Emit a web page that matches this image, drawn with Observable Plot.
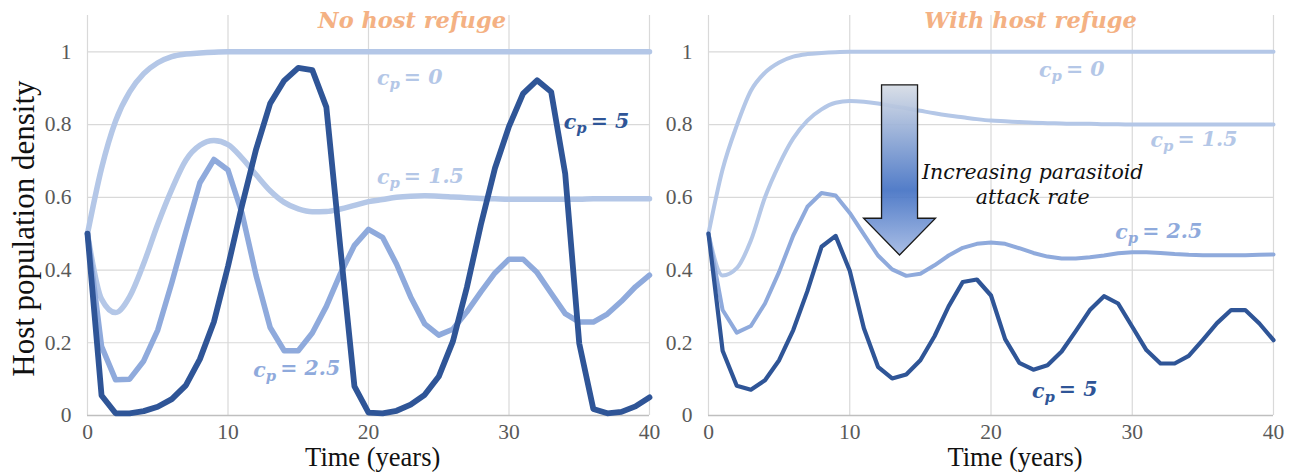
<!DOCTYPE html>
<html>
<head>
<meta charset="utf-8">
<script src="https://cdn.jsdelivr.net/npm/d3@7"></script>
<script src="https://cdn.jsdelivr.net/npm/@observablehq/plot@0.6"></script>
<style>
html, body { margin: 0; padding: 0; background: #fff; }
#wrap { display: flex; width: 1303px; height: 473px; overflow: hidden; }
#wrap svg { background: none !important; overflow: visible; }
</style>
</head>
<body>
<div id="wrap"></div>
<script>
// ---------- data ----------
const years = [0,1,2,3,4,5,6,7,8,9,10,11,12,13,14,15,16,17,18,19,20,21,22,23,24,25,26,27,28,29,30,31,32,33,34,35,36,37,38,39,40];
const cpLevels = ["0", "1.5", "2.5", "5"];

// Panel A: no host refuge
const noRefuge_cp0  = [0.5,0.68,0.81,0.89,0.94,0.97,0.987,0.994,0.997,0.999,1,1,1,1,1,1,1,1,1,1,1,1,1,1,1,1,1,1,1,1,1,1,1,1,1,1,1,1,1,1,1];
const noRefuge_cp15 = [0.5,0.32,0.283,0.327,0.418,0.526,0.622,0.702,0.743,0.756,0.745,0.708,0.662,0.618,0.586,0.568,0.56,0.561,0.568,0.578,0.588,0.594,0.6,0.603,0.604,0.603,0.601,0.599,0.597,0.596,0.595,0.595,0.595,0.595,0.595,0.595,0.596,0.596,0.596,0.596,0.596];
const noRefuge_cp25 = [0.5,0.19,0.098,0.1,0.15,0.235,0.365,0.505,0.64,0.704,0.675,0.556,0.385,0.242,0.178,0.178,0.227,0.3,0.39,0.468,0.512,0.49,0.416,0.326,0.252,0.221,0.237,0.285,0.34,0.392,0.43,0.43,0.393,0.336,0.28,0.257,0.257,0.279,0.314,0.354,0.386];
const noRefuge_cp5  = [0.5,0.055,0.006,0.006,0.012,0.024,0.045,0.083,0.155,0.258,0.41,0.578,0.732,0.858,0.921,0.956,0.95,0.848,0.46,0.08,0.008,0.006,0.013,0.03,0.057,0.107,0.203,0.352,0.525,0.68,0.795,0.885,0.922,0.89,0.665,0.198,0.018,0.006,0.01,0.025,0.05];

// Panel B: with host refuge
const withRefuge_cp0  = [0.5,0.677,0.797,0.893,0.943,0.971,0.987,0.994,0.997,0.999,1,1,1,1,1,1,1,1,1,1,1,1,1,1,1,1,1,1,1,1,1,1,1,1,1,1,1,1,1,1,1];
const withRefuge_cp15 = [0.5,0.385,0.405,0.481,0.6,0.69,0.762,0.811,0.842,0.86,0.865,0.863,0.858,0.851,0.845,0.838,0.831,0.825,0.82,0.815,0.811,0.809,0.807,0.805,0.804,0.803,0.802,0.802,0.801,0.801,0.8,0.8,0.8,0.8,0.8,0.8,0.8,0.8,0.8,0.8,0.8];
const withRefuge_cp25 = [0.5,0.29,0.228,0.246,0.308,0.395,0.495,0.574,0.612,0.605,0.557,0.498,0.44,0.402,0.384,0.39,0.413,0.44,0.461,0.472,0.476,0.472,0.46,0.447,0.437,0.432,0.432,0.435,0.44,0.446,0.449,0.449,0.447,0.444,0.442,0.441,0.441,0.441,0.441,0.442,0.443];
const withRefuge_cp5  = [0.5,0.178,0.082,0.071,0.097,0.152,0.235,0.342,0.464,0.494,0.398,0.24,0.134,0.102,0.113,0.152,0.218,0.3,0.367,0.374,0.33,0.21,0.145,0.126,0.138,0.176,0.232,0.29,0.328,0.308,0.244,0.18,0.143,0.143,0.164,0.208,0.254,0.29,0.29,0.253,0.207];

// tick labels
const xTicks = [0, 10, 20, 30, 40];
const xTickLabels = ["0", "10", "20", "30", "40"];
const yTicks = [0, 0.2, 0.4, 0.6, 0.8, 1];
const yTickLabels = ["0", "0.2", "0.4", "0.6", "0.8", "1"];

// text annotations
const panelTitles = ["No host refuge", "With host refuge"];
const xTitle = "Time (years)";
const yTitle = "Host population density";
const arrowText = "Increasing parasitoid\nattack rate";

// label anchor positions (data units: year, density)
const noRefugeLabelT = [20.6, 20.6, 11.8, 33.9];
const noRefugeLabelV = [0.908, 0.636, 0.107, 0.787];
const withRefugeLabelT = [23.4, 31.3, 28.8, 22.9];
const withRefugeLabelV = [0.93, 0.738, 0.485, 0.048];

// ---------- styling ----------
const lineColors = ["#b4c7e7", "#b4c7e7", "#8faadc", "#2f5597"];
const labelColors = ["#b4c7e7", "#b4c7e7", "#8faadc", "#2f5597"];
const titleColor = "#f4b183";
const gridColor = "#d9d9d9";
const serif = "'Liberation Serif', 'Times New Roman', serif";
const deja = "'DejaVu Serif', serif";

function rows(arr) { return years.map((t, i) => ({t, v: arr[i]})); }

function arrowMark(spec) {
  return function(index, scales) {
    const x = scales.x(spec.t);
    const yTop = scales.y(spec.top), yHead = scales.y(spec.head), yTip = scales.y(spec.tip);
    const sw = 18, hw = 36;
    const g = d3.create("svg:g");
    const grad = g.append("defs").append("linearGradient")
      .attr("id", "arrowGrad").attr("x1", 0).attr("y1", 0).attr("x2", 0).attr("y2", 1);
    grad.append("stop").attr("offset", "0").attr("stop-color", "#d6dce5");
    grad.append("stop").attr("offset", "0.62").attr("stop-color", "#4472c4");
    grad.append("stop").attr("offset", "1").attr("stop-color", "#a3b9e3");
    g.append("path")
      .attr("d", `M${x - sw},${yTop}H${x + sw}V${yHead}H${x + hw}L${x},${yTip}L${x - hw},${yHead}H${x - sw}Z`)
      .attr("fill", "url(#arrowGrad)")
      .attr("fill-opacity", 0.92)
      .attr("stroke", "#1a1a1a")
      .attr("stroke-width", 1.3)
      .attr("stroke-linejoin", "miter");
    return g.node();
  };
}

function makePanel(opts) {
  const {series, labelT, labelV, title, titleT, width, marginLeft, marginRight, lw, showYTitle, arrow, xTitleT} = opts;
  const marks = [];
  marks.push(Plot.ruleX(xTicks, {stroke: gridColor, strokeWidth: 1.2}));
  marks.push(Plot.ruleY(yTicks.slice(1), {stroke: gridColor, strokeWidth: 1.2}));
  marks.push(Plot.ruleY([0], {stroke: "#bfbfbf", strokeWidth: 1.6}));
  series.forEach((s, k) => {
    marks.push(Plot.line(rows(s), {
      x: "t", y: "v",
      stroke: lineColors[k],
      strokeWidth: lw[k],
      curve: k < 2 ? "monotone-x" : "linear"
    }));
  });
  if (arrow) {
    marks.push(arrowMark(arrow));
    marks.push(Plot.text([arrowText], {
      x: () => arrow.textT, y: () => arrow.textV,
      text: d => d, textAnchor: "middle", lineAnchor: "bottom", lineHeight: 1.22,
      fontFamily: deja, fontStyle: "italic", fontSize: 20.5, fill: "#111"
    }));
  }
  const labelRows = cpLevels.map((c, k) => ({c, t: labelT[k], v: labelV[k], k}));
  marks.push(Plot.text(labelRows, {
    x: "t", y: "v", text: d => "c_p = " + d.c,
    fill: d => labelColors[d.k], textAnchor: "start", lineAnchor: "bottom",
    fontFamily: deja, fontStyle: "italic", fontWeight: "bold", fontSize: 20.5
  }));
  marks.push(Plot.text([title], {
    x: () => titleT, y: () => 1.065, text: d => d,
    textAnchor: "middle", lineAnchor: "bottom",
    fontFamily: deja, fontStyle: "italic", fontWeight: "bold", fontSize: 22.5, fill: titleColor
  }));
  marks.push(Plot.text([xTitle], {
    x: () => xTitleT, frameAnchor: "bottom", dy: 50, text: d => d,
    textAnchor: "middle", lineAnchor: "bottom",
    fontFamily: serif, fontSize: 26.5, fill: "#111"
  }));
  if (showYTitle) {
    marks.push(Plot.text([yTitle], {
      y: () => 0.514, frameAnchor: "left", dx: -54, text: d => d,
      rotate: -90, textAnchor: "middle", lineAnchor: "bottom",
      fontFamily: serif, fontSize: 31, fill: "#111"
    }));
  }
  const svg = Plot.plot({
    width, height: 473,
    marginTop: 15, marginBottom: 58, marginLeft, marginRight,
    style: {fontFamily: serif, fontSize: "21.5px", color: "#595959", background: "none", overflow: "visible"},
    x: {domain: [0, 40], ticks: xTicks, tickSize: 0, tickPadding: 8,
        tickFormat: d => xTickLabels[xTicks.indexOf(d)], label: null},
    y: {domain: [0, 1.1], ticks: yTicks, tickSize: 0, tickPadding: 16,
        tickFormat: d => yTickLabels[yTicks.indexOf(d)], label: null},
    marks
  });
  // subscript p in the c_p labels
  d3.select(svg).selectAll("text").each(function() {
    const m = /^c_p = (.+)$/.exec(this.textContent);
    if (!m) return;
    const el = d3.select(this);
    el.selectAll("*").remove();
    el.text(null);
    el.append("tspan").text("c");
    el.append("tspan").attr("dy", "0.28em").attr("font-size", "72%").text("p");
    el.append("tspan").attr("dy", "-0.28em").text("\u2009= " + m[1]);
  });
  return svg;
}

const wrap = document.getElementById("wrap");
wrap.appendChild(makePanel({
  series: [noRefuge_cp0, noRefuge_cp15, noRefuge_cp25, noRefuge_cp5],
  labelT: noRefugeLabelT, labelV: noRefugeLabelV,
  title: panelTitles[0], titleT: 23.1, xTitleT: 20.3,
  width: 655, marginLeft: 87, marginRight: 6,
  lw: [5.5, 5.5, 5.5, 5.8], showYTitle: true
}));
wrap.appendChild(makePanel({
  series: [withRefuge_cp0, withRefuge_cp15, withRefuge_cp25, withRefuge_cp5],
  labelT: withRefugeLabelT, labelV: withRefugeLabelV,
  title: panelTitles[1], titleT: 22.8, xTitleT: 21.7,
  width: 648, marginLeft: 53, marginRight: 30,
  lw: [4, 4, 4, 4.2], showYTitle: false,
  arrow: {t: 13.56, top: 0.908, head: 0.541, tip: 0.44, textT: 22.95, textV: 0.581}
}));
</script>
</body>
</html>
